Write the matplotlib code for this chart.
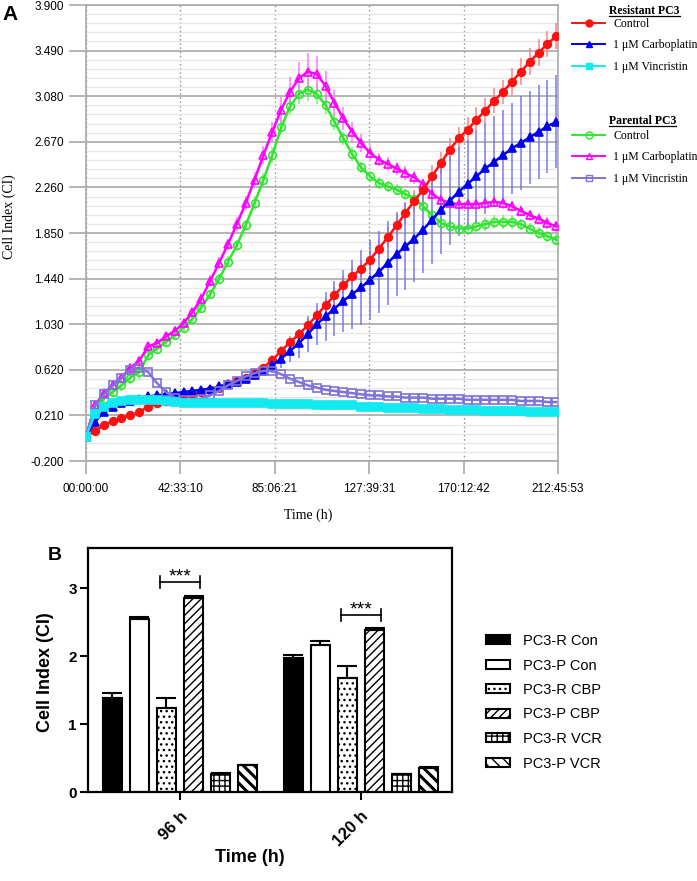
import matplotlib
matplotlib.use("Agg")
import matplotlib.pyplot as plt
import numpy as np
from matplotlib.lines import Line2D
from matplotlib.ticker import FixedLocator

plt.rcParams['font.family'] = ['Liberation Sans', 'DejaVu Sans']
plt.rcParams['hatch.linewidth'] = 1.0
SERIF = ['Liberation Serif', 'DejaVu Serif']

# ---------------- panel A: xCELLigence traces ----------------
time_h = [0, 4, 8, 12, 16, 20, 24, 28, 32, 36,
          40, 44, 48, 52, 56, 60, 64, 68, 72, 76,
          80, 84, 88, 92, 96, 100, 104, 108, 112, 116,
          120, 124, 128, 132, 136, 140, 144, 148, 152, 156,
          160, 164, 168, 172, 176, 180, 184, 188, 192, 196,
          200, 204, 208, 212]

res_control = [0.02, 0.07, 0.12, 0.16, 0.19, 0.21, 0.24, 0.29, 0.32, 0.34,
               0.36, 0.38, 0.40, 0.42, 0.44, 0.46, 0.49, 0.52, 0.55, 0.59,
               0.64, 0.71, 0.79, 0.87, 0.94, 1.02, 1.11, 1.20, 1.29, 1.38,
               1.46, 1.53, 1.61, 1.71, 1.81, 1.92, 2.03, 2.14, 2.24, 2.36,
               2.48, 2.60, 2.70, 2.78, 2.87, 2.95, 3.04, 3.12, 3.21, 3.30,
               3.39, 3.47, 3.55, 3.62]
res_control_sd = [0.01, 0.02, 0.02, 0.02, 0.02, 0.02, 0.02, 0.02, 0.02, 0.02,
                  0.02, 0.02, 0.02, 0.02, 0.02, 0.02, 0.02, 0.03, 0.03, 0.03,
                  0.03, 0.04, 0.04, 0.05, 0.05, 0.06, 0.06, 0.07, 0.07, 0.08,
                  0.08, 0.08, 0.09, 0.09, 0.09, 0.10, 0.10, 0.10, 0.10, 0.10,
                  0.10, 0.10, 0.10, 0.11, 0.11, 0.11, 0.11, 0.11, 0.12, 0.12,
                  0.12, 0.12, 0.12, 0.12]

res_carbo = [0.02, 0.15, 0.24, 0.29, 0.32, 0.34, 0.36, 0.38, 0.39, 0.40,
             0.41, 0.42, 0.43, 0.44, 0.45, 0.47, 0.49, 0.51, 0.54, 0.57,
             0.61, 0.66, 0.72, 0.79, 0.86, 0.94, 1.03, 1.10, 1.17, 1.24,
             1.30, 1.36, 1.43, 1.50, 1.58, 1.66, 1.73, 1.80, 1.88, 1.97,
             2.06, 2.14, 2.22, 2.29, 2.36, 2.43, 2.49, 2.55, 2.61, 2.66,
             2.71, 2.76, 2.81, 2.85]
res_carbo_sd = [0.01, 0.02, 0.02, 0.02, 0.02, 0.02, 0.02, 0.02, 0.02, 0.02,
                0.02, 0.02, 0.02, 0.02, 0.02, 0.02, 0.03, 0.03, 0.04, 0.04,
                0.05, 0.07, 0.08, 0.10, 0.13, 0.16, 0.19, 0.22, 0.25, 0.28,
                0.31, 0.34, 0.36, 0.37, 0.38, 0.38, 0.39, 0.39, 0.39, 0.40,
                0.40, 0.40, 0.40, 0.40, 0.41, 0.41, 0.41, 0.41, 0.41, 0.42,
                0.42, 0.42, 0.42, 0.42]

res_vincr = [0.02, 0.22, 0.29, 0.32, 0.34, 0.35, 0.35, 0.35, 0.35, 0.34,
             0.33, 0.32, 0.32, 0.32, 0.32, 0.32, 0.32, 0.32, 0.32, 0.32,
             0.32, 0.31, 0.31, 0.31, 0.31, 0.31, 0.30, 0.30, 0.30, 0.30,
             0.30, 0.29, 0.29, 0.29, 0.28, 0.28, 0.28, 0.28, 0.27, 0.27,
             0.27, 0.26, 0.26, 0.26, 0.26, 0.25, 0.25, 0.25, 0.25, 0.25,
             0.24, 0.24, 0.24, 0.24]

par_control = [0.02, 0.24, 0.36, 0.42, 0.48, 0.55, 0.60, 0.75, 0.81, 0.87,
               0.93, 1.00, 1.08, 1.18, 1.30, 1.44, 1.59, 1.74, 1.92, 2.12,
               2.33, 2.55, 2.80, 2.99, 3.10, 3.14, 3.10, 3.00, 2.85, 2.70,
               2.56, 2.44, 2.36, 2.30, 2.27, 2.24, 2.20, 2.16, 2.09, 2.01,
               1.94, 1.91, 1.89, 1.89, 1.91, 1.93, 1.95, 1.95, 1.95, 1.93,
               1.89, 1.85, 1.82, 1.79]
par_control_sd = [0.01, 0.03, 0.03, 0.04, 0.05, 0.06, 0.07, 0.05, 0.04, 0.04,
                  0.04, 0.04, 0.04, 0.04, 0.04, 0.04, 0.05, 0.05, 0.05, 0.06,
                  0.06, 0.07, 0.07, 0.08, 0.09, 0.10, 0.09, 0.08, 0.07, 0.06,
                  0.06, 0.05, 0.05, 0.05, 0.05, 0.05, 0.05, 0.05, 0.05, 0.06,
                  0.06, 0.06, 0.06, 0.06, 0.06, 0.06, 0.06, 0.06, 0.06, 0.05,
                  0.05, 0.05, 0.05, 0.05]

par_carbo = [0.02, 0.30, 0.41, 0.48, 0.55, 0.64, 0.70, 0.83, 0.86, 0.92,
             0.97, 1.04, 1.14, 1.26, 1.42, 1.58, 1.75, 1.93, 2.12, 2.33,
             2.55, 2.76, 2.96, 3.12, 3.24, 3.30, 3.28, 3.17, 3.02, 2.88,
             2.76, 2.66, 2.57, 2.51, 2.47, 2.43, 2.39, 2.35, 2.29, 2.20,
             2.15, 2.12, 2.11, 2.11, 2.11, 2.12, 2.13, 2.12, 2.09, 2.05,
             2.01, 1.98, 1.94, 1.91]
par_carbo_sd = [0.01, 0.03, 0.03, 0.03, 0.03, 0.04, 0.04, 0.04, 0.04, 0.04,
                0.04, 0.04, 0.04, 0.05, 0.05, 0.05, 0.05, 0.06, 0.06, 0.07,
                0.08, 0.09, 0.11, 0.13, 0.15, 0.17, 0.16, 0.14, 0.12, 0.10,
                0.09, 0.08, 0.07, 0.06, 0.06, 0.06, 0.06, 0.06, 0.05, 0.05,
                0.05, 0.05, 0.05, 0.05, 0.05, 0.05, 0.05, 0.05, 0.05, 0.05,
                0.05, 0.05, 0.05, 0.05]

par_vincr = [0.02, 0.30, 0.40, 0.48, 0.55, 0.62, 0.64, 0.60, 0.50, 0.42,
             0.37, 0.35, 0.35, 0.36, 0.39, 0.43, 0.48, 0.52, 0.56, 0.59,
             0.61, 0.61, 0.58, 0.54, 0.51, 0.48, 0.46, 0.44, 0.43, 0.42,
             0.41, 0.40, 0.39, 0.39, 0.38, 0.38, 0.37, 0.37, 0.37, 0.36,
             0.36, 0.36, 0.36, 0.35, 0.35, 0.35, 0.35, 0.35, 0.35, 0.34,
             0.34, 0.34, 0.33, 0.33]

a_xticklabels = ['00:00:00', '42:33:10', '85:06:21', '127:39:31', '170:12:42', '212:45:53']
a_yticks = [-0.200, 0.210, 0.620, 1.030, 1.440, 1.850, 2.260, 2.670, 3.080, 3.490, 3.900]
a_labels = ['Control', '1 \u03bcM Carboplatin', '1 \u03bcM Vincristin']

# ---------------- panel B: bar chart ----------------
b_groups = ['96 h', '120 h']
b_series = ['PC3-R Con', 'PC3-P Con', 'PC3-R CBP', 'PC3-P CBP', 'PC3-R VCR', 'PC3-P VCR']
b_mean_96 = [1.39, 2.54, 1.24, 2.85, 0.27, 0.39]
b_err_96 = [0.06, 0.03, 0.14, 0.04, 0.01, 0.01]
b_mean_120 = [1.97, 2.16, 1.67, 2.39, 0.26, 0.36]
b_err_120 = [0.05, 0.06, 0.19, 0.02, 0.01, 0.01]
b_sig_y = [3.09, 2.60]

W, H = 697, 881
fig = plt.figure(figsize=(W / 100, H / 100), dpi=100)


def box(l, t, r, b):
    return [l / W, 1 - b / H, (r - l) / W, (b - t) / H]


def hms(s):
    h, m, sec = (int(p) for p in s.split(':'))
    return h + m / 60 + sec / 3600


GRID = '#a9a9a9'
axA = fig.add_axes(box(86, 5, 558, 461))
axA.set_axisbelow(True)
xt = [hms(s) for s in a_xticklabels]
axA.set_xlim(0, xt[-1])
axA.set_ylim(-0.2, 3.9)
axA.set_xticks(xt)
axA.set_xticklabels(a_xticklabels)
axA.set_yticks(a_yticks)
axA.set_yticklabels([f'{v:.3f}' for v in a_yticks])
axA.yaxis.set_minor_locator(FixedLocator(np.arange(-0.2, 3.9, 0.082)))
axA.grid(axis='y', which='major', color=GRID, lw=1.2)
axA.grid(axis='y', which='minor', color='#e6e6e6', lw=0.9)
axA.grid(axis='x', which='major', color='#9a9a9a', lw=1.0, ls=(0, (1.2, 1.8)))
for sp in axA.spines.values():
    sp.set_color(GRID)
    sp.set_linewidth(1.2)
axA.tick_params(axis='y', which='major', length=12, width=1.2, color=GRID, pad=4, labelsize=8.5)
axA.tick_params(axis='y', which='minor', length=0)
axA.tick_params(axis='x', length=9, width=1.2, color=GRID, pad=7, labelsize=8.5)

traces = [
    (par_control, par_control_sd, '#2fe62f', '#6cf06c', 'o', 'none'),
    (par_carbo, par_carbo_sd, '#ff00ff', '#ff70ff', '^', 'none'),
    (res_control, res_control_sd, '#ff1010', '#ff7a7a', 'o', 'full'),
    (res_carbo, res_carbo_sd, '#0000ee', '#7070f0', '^', 'full'),
    (par_vincr, None, '#7f72d8', None, 's', 'none'),
    (res_vincr, None, '#10eaf0', None, 's', 'full'),
]
for vals, sd, col, ecol, mk, fill in traces:
    if sd is not None:
        axA.errorbar(time_h, vals, yerr=sd, fmt='none', ecolor=ecol, elinewidth=1.2,
                     alpha=0.85, zorder=2)
    axA.plot(time_h, vals, color=col, lw=1.8, marker=mk, ms=5.5, mew=1.2,
             mfc=col if fill == 'full' else 'none', mec=col, zorder=3)

fig.text(2 / W, 1 - 14 / H, 'A', fontsize=15, fontweight='bold', va='center', ha='left')
fig.text(9 / W, 1 - 217 / H, 'Cell Index (CI)', family=SERIF, fontsize=10,
         rotation=90, ha='center', va='center')
fig.text(308 / W, 1 - 515 / H, 'Time (h)', family=SERIF, fontsize=10, ha='center', va='center')

# legend for panel A (two groups with underlined bold headers)
res_handles = [Line2D([], [], color='#ff1010', marker='o', ms=5, mfc='#ff1010', lw=1.4),
               Line2D([], [], color='#0000ee', marker='^', ms=5, mfc='#0000ee', lw=1.4),
               Line2D([], [], color='#10eaf0', marker='s', ms=5, mfc='#10eaf0', lw=1.4)]
par_handles = [Line2D([], [], color='#2fe62f', marker='o', ms=5, mfc='none', lw=1.4),
               Line2D([], [], color='#ff00ff', marker='^', ms=5, mfc='none', lw=1.4),
               Line2D([], [], color='#7f72d8', marker='s', ms=5, mfc='none', lw=1.4)]
leg_kw = dict(loc='upper left', frameon=False, prop={'family': SERIF, 'size': 8.5},
              handlelength=2.8, handletextpad=0.7, labelspacing=0.8,
              borderpad=0, borderaxespad=0)
fig.legend(res_handles, a_labels, bbox_to_anchor=(572 / W, 1 - 18 / H), **leg_kw)
fig.legend(par_handles, a_labels, bbox_to_anchor=(572 / W, 1 - 130 / H), **leg_kw)

headers = [fig.text(609 / W, 1 - 11 / H, 'Resistant PC3', family=SERIF, fontsize=8.5,
                    fontweight='bold', va='center'),
           fig.text(609 / W, 1 - 121 / H, 'Parental PC3', family=SERIF, fontsize=8.5,
                    fontweight='bold', va='center')]
renderer = fig.canvas.get_renderer()
for t in headers:
    bb = t.get_window_extent(renderer)
    fig.add_artist(Line2D([bb.x0 / W, bb.x1 / W], [(bb.y0 + 1) / H] * 2,
                          transform=fig.transFigure, color='black', lw=0.9))

# ---------------- panel B ----------------
axB = fig.add_axes(box(88, 548, 452, 792))
pitch, width = 0.15, 0.105
gx = np.arange(len(b_groups))
faces = ['black', 'white', 'white', 'white', 'white', 'white']
hatches = ['', '', '...', '////', '+++', '\\\\\\']
hatch_lw = [1.0, 1.0, 1.0, 1.0, 1.0, 2.2]
for k, name in enumerate(b_series):
    means = [b_mean_96[k], b_mean_120[k]]
    errs = [b_err_96[k], b_err_120[k]]
    bars = axB.bar(gx + (k - 2.5) * pitch, means, width, yerr=[[0, 0], errs],
                   color=faces[k], edgecolor='black', lw=1.5, hatch=hatches[k],
                   label=name, capsize=7, zorder=2,
                   error_kw=dict(elinewidth=1.5, capthick=1.5, ecolor='black', zorder=3))
    for p in bars.patches:
        if hasattr(p, 'set_hatch_linewidth'):
            p.set_hatch_linewidth(hatch_lw[k])

for gi, yb in enumerate(b_sig_y):
    x0 = gi + (2 - 2.5) * pitch - 0.035
    x1 = gi + (3 - 2.5) * pitch + 0.035
    axB.plot([x0, x1], [yb, yb], color='black', lw=1.2)
    axB.plot([x0, x0], [yb - 0.09, yb + 0.09], color='black', lw=1.2)
    axB.plot([x1, x1], [yb - 0.09, yb + 0.09], color='black', lw=1.2)
    axB.text((x0 + x1) / 2, yb + 0.01, '***', ha='center', va='baseline', fontsize=14)

axB.set_xlim(-0.508, 1.503)
axB.set_ylim(0, 3.59)
axB.set_yticks([0, 1, 2, 3])
axB.set_xticks(gx)
axB.set_xticklabels(b_groups, rotation=45, ha='right', va='top', rotation_mode='anchor',
                    fontweight='bold', fontsize=12)
for lbl in axB.get_yticklabels():
    lbl.set_fontweight('bold')
axB.tick_params(axis='y', length=6, width=1.5, pad=2, labelsize=11)
axB.tick_params(axis='x', length=6, width=1.5, pad=6)
for sp in axB.spines.values():
    sp.set_linewidth(1.6)
    sp.set_color('black')

fig.text(48 / W, 1 - 555 / H, 'B', fontsize=14, fontweight='bold', va='center', ha='left')
fig.text(45 / W, 1 - 672 / H, 'Cell Index (CI)', fontsize=13, fontweight='bold',
         rotation=90, ha='center', va='center')
fig.text(250 / W, 1 - 858 / H, 'Time (h)', fontsize=13, fontweight='bold', ha='center', va='center')

hb, lb = axB.get_legend_handles_labels()
fig.legend(hb, lb, loc='upper left', bbox_to_anchor=(486 / W, 1 - 634 / H), frameon=False,
           fontsize=10.5, handlelength=1.65, handleheight=0.6, handletextpad=0.9,
           labelspacing=0.72, borderpad=0, borderaxespad=0)

fig.savefig('out.png', dpi=100)
